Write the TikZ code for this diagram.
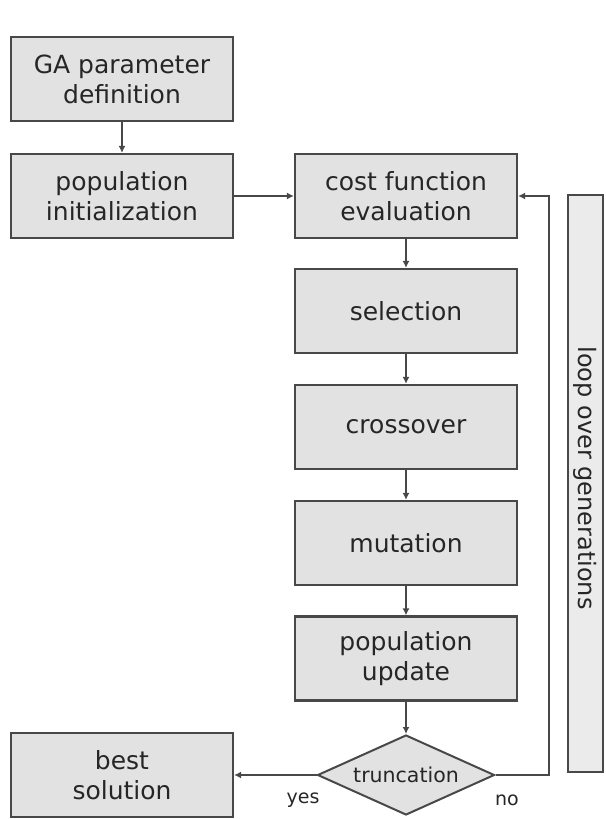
\documentclass[tikz,border=0pt]{standalone}
\usepackage{fontspec}
\setmainfont{DejaVu Sans}
\usetikzlibrary{shapes.geometric,arrows.meta}
\definecolor{boxfill}{HTML}{E2E2E2}
\definecolor{edge}{HTML}{484848}
\definecolor{barfill}{HTML}{EBEBEB}
\begin{document}
\begin{tikzpicture}[x=1pt,y=1pt,
  stepbox/.style={draw=edge, fill=boxfill, line width=2.2pt, minimum width=222pt, minimum height=84pt, inner sep=0pt, align=center, font=\fontsize{25}{30}\selectfont, text=black!85},
  decbox/.style={diamond, aspect=2.2, draw=edge, fill=boxfill, line width=2pt, minimum width=177pt, minimum height=80pt, inner sep=0pt, font=\fontsize{20.5}{24}\selectfont, text=black!85},
  flow/.style={draw=edge, line width=2.2pt, -{Latex[length=7pt,width=7pt]}},
  lbl/.style={font=\fontsize{19}{22}\selectfont, text=black!85}
]
\useasboundingbox (0,0) rectangle (605,-819);
\node[stepbox] (ga) at (122,-79) {GA parameter\\definition};
\node[stepbox] (pop) at (122,-196) {population\\initialization};
\node[stepbox] (cost) at (406,-196) {cost function\\evaluation};
\node[stepbox] (sel) at (406,-311) {selection};
\node[stepbox] (cross) at (406,-427) {crossover};
\node[stepbox] (mut) at (406,-543) {mutation};
\node[stepbox] (upd) at (406,-658.5) {population\\update};
\node[decbox] (trunc) at (406,-775) {truncation};
\node[stepbox] (best) at (122,-775) {best\\solution};
\node[draw=edge, fill=barfill, line width=1.5pt, minimum width=35pt, minimum height=577pt, inner sep=0pt] (loop) at (585.5,-483.5) {};
\node[rotate=-90, font=\fontsize{24}{28}\selectfont, text=black!85] (looptext) at (585.5,-478) {loop over generations};
\coordinate (fb) at (549,-196);
\draw[flow] (ga) -- (pop);
\draw[flow] (pop) -- (cost);
\draw[flow] (cost) -- (sel);
\draw[flow] (sel) -- (cross);
\draw[flow] (cross) -- (mut);
\draw[flow] (mut) -- (upd);
\draw[flow] (upd) -- (trunc);
\draw[flow] (trunc) -- (best);
\draw[flow] (trunc.east) -| (fb) -- (cost.east);
\node[lbl] (yes) at (303,-800) {yes};
\node[lbl] (no) at (507,-800) {no};
\end{tikzpicture}
\end{document}
